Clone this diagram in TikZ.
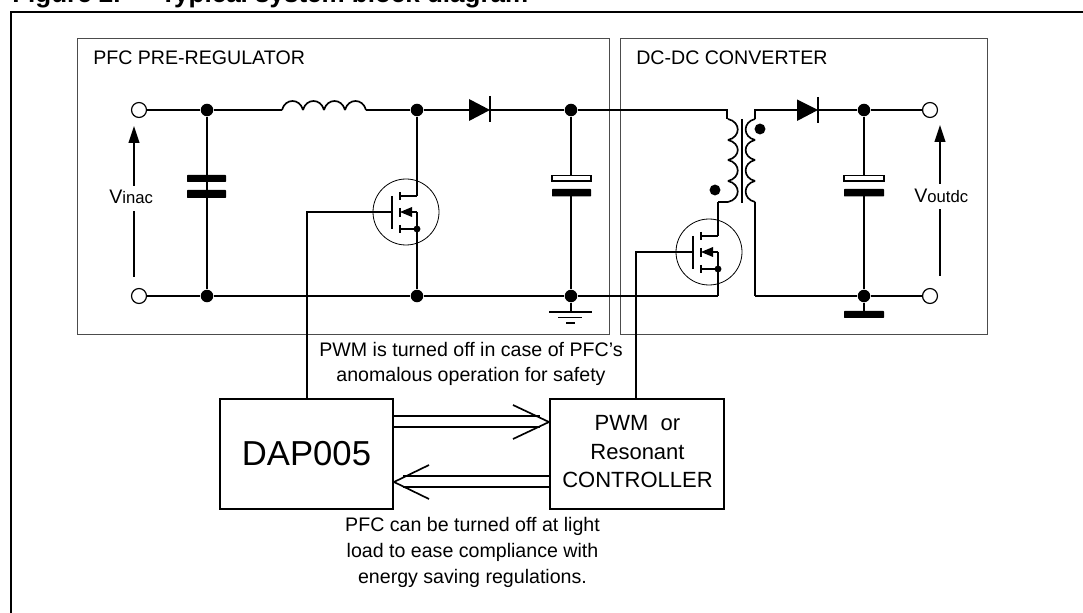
\documentclass[tikz,border=0pt]{standalone}
\usepackage{fontspec}
\setmainfont{Liberation Sans}
\usetikzlibrary{arrows.meta,positioning}

\tikzset{
  mosfet/.pic={
    \coordinate (-gate) at (-14,0);
    \coordinate (-drain) at (11,-16);
    \coordinate (-src) at (11,0);
    \coordinate (-body) at (11,17);
    \draw[wire] (-14,-16) -- (-14,17);
    \draw[wire] (-6,-20) -- (-6,-12) (-6,-4) -- (-6,5) (-6,13) -- (-6,21);
    \draw[wire] (-6,-16) -- (-drain);
    \draw[wire] (-6,17) -- (-body);
    \draw[wire] (-src) -- (6,0);
    \fill (-6,0) -- (6,-5) -- (6,5) -- cycle;
    \node[smalldot] (-bodydot) at (-body) {};
  }
}

\begin{document}
\begin{tikzpicture}[x=0.75pt,y=-0.75pt,font=\fontsize{14.7}{18.75}\selectfont,
  wire/.style={line width=1.25pt},
  dot/.style={circle,fill=black,inner sep=0pt,minimum size=9.4pt},
  smalldot/.style={circle,fill=black,inner sep=0pt,minimum size=5.2pt},
  phasedot/.style={circle,fill=black,inner sep=0pt,minimum size=8.2pt},
  term/.style={circle,draw,line width=0.9pt,fill=white,inner sep=0pt,minimum size=11.2pt},
  bulb/.style={circle,draw,line width=0.6pt,inner sep=0pt,minimum size=49.5pt},
  plate/.style={fill=black,rounded corners=0.5pt},
  openplate/.style={draw,line width=0.9pt,fill=white},
  block/.style={draw,line width=1.25pt,inner sep=0pt,align=center},
  region/.style={draw=black!70,line width=0.75pt,inner sep=0pt,anchor=north west},
  vsense/.style={-{Triangle[length=12.7pt,width=8pt]},line width=1.25pt}]

\useasboundingbox (0,0) rectangle (1083,613);

% title and outer frame
\node[anchor=base west,inner sep=0pt,font=\fontsize{19.5}{22}\bfseries\selectfont] (fignum) at (12,3) {Figure 2.};
\node[anchor=base west,inner sep=0pt,font=\fontsize{19.5}{22}\bfseries\selectfont] (figtitle) at (160,3) {Typical system block diagram};
\draw[line width=1.5pt] (11,613) -- (11,12) -- (1083,12);

% regions
\node[region,minimum width=399pt,minimum height=221.6pt] (pfcbox) at (77,38.5) {};
\node[region,minimum width=275.2pt,minimum height=221.6pt] (dcbox) at (620,38.5) {};
\node[anchor=west,inner sep=0pt] (pfclabel) at (93,58) {PFC PRE-REGULATOR};
\node[anchor=west,inner sep=0pt] (dclabel) at (636,58) {DC-DC CONVERTER};

% nodes along the rails
\node[term] (tin) at (139,110) {};
\node[term] (tinb) at (139,296) {};
\node[dot] (j1) at (207,110) {};
\node[dot] (j1b) at (207,296) {};
\node[dot] (j2) at (417,110) {};
\node[dot] (j2b) at (417,296) {};
\node[dot] (j3) at (571,110) {};
\node[dot] (j3b) at (571,296) {};
\node[dot] (j4) at (864,110) {};
\node[dot] (j4b) at (864,296) {};
\node[term] (tout) at (930,110) {};
\node[term] (toutb) at (930,296) {};
\node[phasedot] (ph1) at (715,190) {};
\node[phasedot] (ph2) at (760,129) {};

\coordinate (lin) at (282,110);
\coordinate (lout) at (366,110);
\coordinate (d1) at (469,110);
\coordinate (d1c) at (490,110);
\coordinate (d2) at (797,110);
\coordinate (d2c) at (818,110);
\coordinate (ptop) at (727,119);
\coordinate (pend) at (728,202);
\coordinate (pbot) at (718,202);
\coordinate (stop) at (755,119);
\coordinate (sbot) at (755,202);
\coordinate (railend) at (755,296);
\coordinate (railq) at (718,296);
\coordinate (gatea) at (307,399);
\coordinate (gateb) at (636,399);

% switches
\node[bulb] (qacase) at (406,212) {};
\node[bulb] (qbcase) at (709,252) {};
\pic (qa) at (406,212) {mosfet};
\pic (qb) at (707,252) {mosfet};

% blocks
\node[block,minimum width=129.7pt,minimum height=82.5pt,font=\fontsize{26}{30}\selectfont] (dap) at (306.5,454) {DAP005};
\node[block,minimum width=130.5pt,minimum height=82.5pt] (ctrl) at (637,454) {};
\node[font=\fontsize{16.5}{20}\selectfont,inner sep=0pt] (ctrla) at (637.5,423) {PWM\ \ or};
\node[font=\fontsize{16.5}{20}\selectfont,inner sep=0pt] (ctrlb) at (637.5,452) {Resonant};
\node[font=\fontsize{16.5}{20}\selectfont,inner sep=0pt] (ctrlc) at (637.5,480) {CONTROLLER};

\path[wire]
(tin) edge (j1)
(j1) edge (lin)
(lout) edge (j2)
(j2) edge (d1)
(d1c) edge (j3)
(tinb) edge (j1b)
(j1b) edge (j2b)
(j2b) edge (j3b)
(j3b) edge (railq)
(j1) edge (j1b)
(j2) edge (qa-drain)
(qa-src) edge (j2b)
(d2c) edge (j4)
(j4) edge (tout)
(j4b) edge (toutb)
(railend) edge (j4b)
(sbot) edge (railend)
(pend) edge (pbot)
(pbot) edge (qb-drain)
(qb-src) edge (railq)
;

\draw[wire] (j3) -| (ptop);
\draw[wire] (stop) |- (d2);
\draw[wire] (qa-gate) -| (gatea);
\draw[wire] (qb-gate) -| (gateb);

% inductor and windings
\foreach \k in {0,1,2,3}{
  \draw[wire] ({282+21*\k},110) .. controls ({285+21*\k},98) and ({300+21*\k},98) .. ({303+21*\k},110);
}
\foreach \a/\b in {119/140,140/160,160/181,181/202}{
  \draw[wire] (728,\a) .. controls (741,{\a+3}) and (741,{\b-3}) .. (728,\b);
  \draw[wire] (755,\a) .. controls (742.5,{\a+3}) and (742.5,{\b-3}) .. (755,\b);
}
\draw[wire] (742,119) -- (742,203);

% diodes
\fill (469,99) -- (d1c) -- (469,121) -- cycle;
\draw[wire] (490,96) -- (490,122);
\fill (797,99.5) -- (d2c) -- (797,121) -- cycle;
\draw[wire] (818,97) -- (818,123);

% capacitors
\fill[plate] (187,175) rectangle (226,182);
\fill[plate] (187,190) rectangle (226,198);
\path[wire] (j3) edge (571,175) (571,189) edge (j3b);
\draw[openplate] (552,175.5) rectangle (591,181);
\fill[plate] (552,189) rectangle (591,196.5);
\path[wire] (j4) edge (864,175) (864,189) edge (j4b);
\draw[openplate] (844,175.5) rectangle (884,181);
\fill[plate] (844,189) rectangle (884,196.5);
\fill[plate] (844,311) rectangle (884,318);
\path[wire] (j4b) edge (864,311);

% ground
\path[wire] (j3b) edge (571,312);
\draw[wire] (549,312) -- (592,312) (558,317.5) -- (582,317.5) (566,323) -- (575,323);

% voltage arrows
\node[anchor=base west,inner sep=0pt] (vin) at (109,204) {V\fontsize{12.5}{14}\selectfont inac};
\node[anchor=base west,inner sep=0pt] (vout) at (914,203) {V\fontsize{12.5}{14}\selectfont outdc};
\coordinate (vina) at (134,277);
\coordinate (vinb) at (134,211);
\coordinate (vinc) at (134,186);
\coordinate (vind) at (134,126);
\coordinate (vouta) at (940,276);
\coordinate (voutb) at (940,209);
\coordinate (voutc) at (940,184);
\coordinate (voutd) at (940,125);
\draw[wire] (vina) -- (vinb);
\draw[vsense] (vinc) -- (vind);
\draw[wire] (vouta) -- (voutb);
\draw[vsense] (voutc) -- (voutd);

% double arrows between blocks
\coordinate (tipa) at (549,422);
\coordinate (tipb) at (394,482);
\draw[wire] (393,416) -- (540,416) (393,427) -- (540,427);
\draw[wire] (513,405) -- (tipa) -- (513,439);
\draw[wire] (550,476) -- (403,476) (550,487) -- (403,487);
\draw[wire] (429,465) -- (tipb) -- (429,499);

% notes
\node[align=center,inner sep=0pt] (notea) at (471,363.5) {PWM is turned off in case of PFC’s\\anomalous operation for safety};
\node[align=center,inner sep=0pt] (noteb) at (472.5,552) {PFC can be turned off at light\\[0.75pt]load to ease compliance with\\[0.75pt]energy saving regulations.};
\end{tikzpicture}
\end{document}
